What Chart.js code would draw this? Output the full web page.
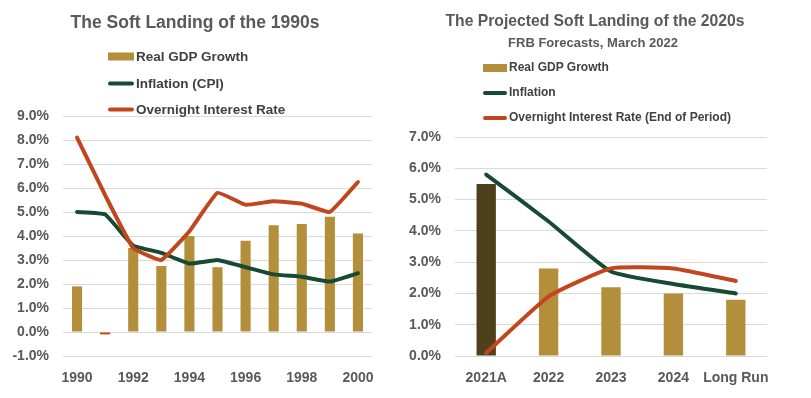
<!DOCTYPE html>
<html><head><meta charset="utf-8">
<script src="https://cdn.jsdelivr.net/npm/chart.js@4"></script>
<style>
html,body{margin:0;padding:0;background:#fff;width:811px;height:398px;overflow:hidden;font-family:"Liberation Sans",Arial,sans-serif;}
.wrap{position:absolute;top:0;}
.title{position:absolute;font-weight:bold;color:#595959;white-space:nowrap;transform:translate(-50%,-50%);}
.leg{position:absolute;color:#404040;white-space:nowrap;font-weight:bold;transform:translateY(-50%);}
.sw{display:inline-block;vertical-align:middle;margin-right:2px;}
</style></head>
<body>
<div class="wrap" style="left:0;width:400px;height:398px;"><canvas id="c1" width="400" height="398"></canvas></div>
<div class="wrap" style="left:400px;width:411px;height:398px;"><canvas id="c2" width="411" height="398"></canvas></div>
<div class="title" style="left:195px;top:22px;font-size:17.5px;">The Soft Landing of the 1990s</div>
<div class="title" style="left:595px;top:21px;font-size:15.7px;">The Projected Soft Landing of the 2020s</div>
<div class="title" style="left:593px;top:42px;font-size:13px;">FRB Forecasts, March 2022</div>
<div id="leg1"></div><div id="leg2"></div>
<script>
// Left chart (1990s)
const years = ['1990','1991','1992','1993','1994','1995','1996','1997','1998','1999','2000'];
const gdp90 = [1.9,-0.1,3.5,2.75,4.0,2.7,3.8,4.45,4.5,4.8,4.1];
const cpi90 = [5.0,4.9,3.6,3.3,2.85,3.0,2.7,2.4,2.3,2.1,2.45];
const rate90 = [8.1,5.7,3.5,3.0,4.2,5.8,5.3,5.45,5.35,5.0,6.25];
const labels90 = ['Real GDP Growth','Inflation (CPI)','Overnight Interest Rate'];
// Right chart (2020s)
const periods = ['2021A','2022','2023','2024','Long Run'];
const gdp20 = [5.5,2.8,2.2,2.0,1.8];
const infl20 = [5.8,4.3,2.7,2.3,2.0];
const rate20 = [0.1,1.9,2.8,2.8,2.4];
const labels20 = ['Real GDP Growth','Inflation','Overnight Interest Rate (End of Period)'];

const GOLD='#b38e3b', DARK='#4f401c', GREEN='#174a33', RED='#c2461d', GRID='#d9d9d9', TXT='#595959';
const tickFont={family:'"Liberation Sans", Arial, sans-serif',size:14,weight:'bold'};

function makeChart(id, cats, bars, barColors, l1, l2, labs, ymin, ymax, pad, barPct, tension, skipOdd){
  return new Chart(document.getElementById(id),{
    type:'bar',
    data:{labels:cats,datasets:[
      {type:'line',label:labs[2],data:l2,borderColor:RED,borderWidth:4,pointRadius:0,tension:tension,borderCapStyle:'round',borderJoinStyle:'round',order:1},
      {type:'line',label:labs[1],data:l1,borderColor:GREEN,borderWidth:4,pointRadius:0,tension:tension,borderCapStyle:'round',borderJoinStyle:'round',order:2},
      {type:'bar',label:labs[0],data:bars,backgroundColor:barColors,borderWidth:0,barPercentage:barPct,categoryPercentage:1,order:3}
    ]},
    options:{
      responsive:false,animation:false,
      layout:{padding:pad},
      plugins:{legend:{display:false},tooltip:{enabled:false}},
      scales:{
        x:{grid:{display:false,drawTicks:false},border:{display:false},
           ticks:{color:TXT,font:tickFont,padding:14,maxRotation:0,autoSkip:false,
                  callback:function(v,i){return (skipOdd && i%2===1)?'':this.getLabelForValue(v);}},
           afterFit:s=>{s.height=42;}},
        y:{min:ymin,max:ymax,grid:{color:GRID,lineWidth:1,drawTicks:false},border:{display:false},
           ticks:{stepSize:1,color:TXT,font:tickFont,padding:14,callback:v=>v.toFixed(1)+'%'},
           afterFit:s=>{s.width=63;}}
      }
    }
  });
}
const gdp90Colors = gdp90.map(v=>v<0?RED:GOLD);
const gdp20Colors = periods.map((p,i)=>i===0?DARK:GOLD);
makeChart('c1',years,gdp90,gdp90Colors,cpi90,rate90,labels90,-1,9,{top:116,left:0,right:28,bottom:0},0.36,0.1,true);
makeChart('c2',periods,gdp20,gdp20Colors,infl20,rate20,labels20,0,7,{top:137,left:-8,right:44,bottom:0},0.31,0.15,false);

function legend(elId, labs, x, ys, size, swW){
  const el=document.getElementById(elId);
  const cols=[GOLD,GREEN,RED];
  labs.forEach((t,i)=>{
    const d=document.createElement('div');d.className='leg';
    d.style.left=x+'px';d.style.top=ys[i]+'px';d.style.fontSize=size+'px';
    const s=document.createElement('span');s.className='sw';
    s.style.width=swW+'px';
    if(i===0){s.style.height='8px';s.style.background=cols[i];}
    else{s.style.height='4px';s.style.borderRadius='2px';s.style.background=cols[i];}
    d.appendChild(s);d.appendChild(document.createTextNode(t));el.appendChild(d);
  });
}
legend('leg1',labels90,108,[56,83,109],13.5,26);
legend('leg2',labels20,483,[67,92,117],12,24);
</script>
</body></html>
